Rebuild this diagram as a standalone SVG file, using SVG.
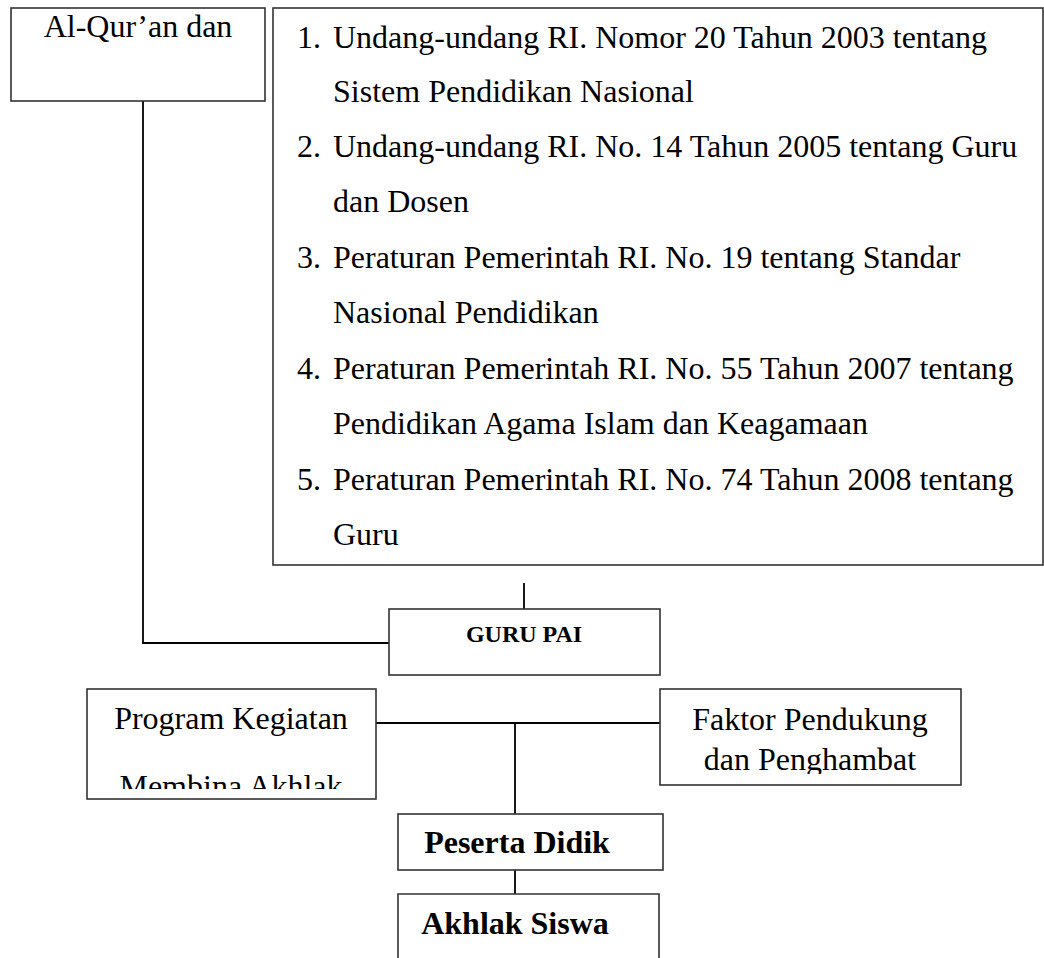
<svg xmlns="http://www.w3.org/2000/svg" width="1044" height="958" viewBox="0 0 1044 958">
<style>
.box{fill:#fff;stroke:#333;stroke-width:1.6}
.ln{fill:none;stroke:#000;stroke-width:1.8}
text{font-family:"Liberation Serif","Times New Roman",serif;fill:#000}
.t{font-size:32px}
.b{font-size:32px;font-weight:bold}
</style>
<defs>
<clipPath id="cpProg"><rect x="87" y="690" width="289" height="99"/></clipPath>
<clipPath id="cpFak"><rect x="660" y="690" width="301" height="84"/></clipPath>
</defs>
<rect width="1044" height="958" fill="#fff"/>
<g id="connectors">
<polyline class="ln" points="143,101 143,643 389,643"/>
<line class="ln" x1="524" y1="583" x2="524" y2="609"/>
<line class="ln" x1="376" y1="723" x2="660" y2="723"/>
<line class="ln" x1="515" y1="723" x2="515" y2="814"/>
<line class="ln" x1="515" y1="870" x2="515" y2="894"/>
</g>
<g id="alquran">
<rect class="box" x="11" y="8" width="254" height="93"/>
<text class="t" x="138" y="37" text-anchor="middle">Al-Qur’an dan</text>
</g>
<g id="regulations">
<rect class="box" x="273" y="8" width="770" height="557"/>
<text class="t" x="297" y="48">1.</text>
<text class="t" x="333" y="48">Undang-undang RI. Nomor 20 Tahun 2003 tentang</text>
<text class="t" x="333" y="102">Sistem Pendidikan Nasional</text>
<text class="t" x="297" y="157">2.</text>
<text class="t" x="333" y="157">Undang-undang RI. No. 14 Tahun 2005 tentang Guru</text>
<text class="t" x="333" y="212">dan Dosen</text>
<text class="t" x="297" y="268">3.</text>
<text class="t" x="333" y="268">Peraturan Pemerintah RI. No. 19 tentang Standar</text>
<text class="t" x="333" y="323">Nasional Pendidikan</text>
<text class="t" x="297" y="379">4.</text>
<text class="t" x="333" y="379">Peraturan Pemerintah RI. No. 55 Tahun 2007 tentang</text>
<text class="t" x="333" y="434">Pendidikan Agama Islam dan Keagamaan</text>
<text class="t" x="297" y="490">5.</text>
<text class="t" x="333" y="490">Peraturan Pemerintah RI. No. 74 Tahun 2008 tentang</text>
<text class="t" x="333" y="545">Guru</text>
</g>
<g id="gurupai">
<rect class="box" x="389" y="609" width="271" height="66"/>
<text x="524" y="642" text-anchor="middle" font-size="24" font-weight="bold">GURU PAI</text>
</g>
<g id="program">
<rect class="box" x="87" y="689" width="289" height="110"/>
<g clip-path="url(#cpProg)">
<text class="t" x="231" y="729" text-anchor="middle">Program Kegiatan</text>
<text class="t" x="231" y="797" text-anchor="middle">Membina Akhlak</text>
</g>
</g>
<g id="faktor">
<rect class="box" x="660" y="689" width="301" height="96"/>
<g clip-path="url(#cpFak)">
<text class="t" x="810" y="730" text-anchor="middle">Faktor Pendukung</text>
<text class="t" x="810" y="770" text-anchor="middle">dan Penghambat</text>
</g>
</g>
<g id="peserta">
<rect class="box" x="398" y="814" width="265" height="56"/>
<text class="b" x="517" y="853" text-anchor="middle">Peserta Didik</text>
</g>
<g id="akhlak">
<polyline class="box" points="398,958 398,894 659,894 659,958"/>
<text class="b" x="515" y="934" text-anchor="middle">Akhlak Siswa</text>
</g>
</svg>
